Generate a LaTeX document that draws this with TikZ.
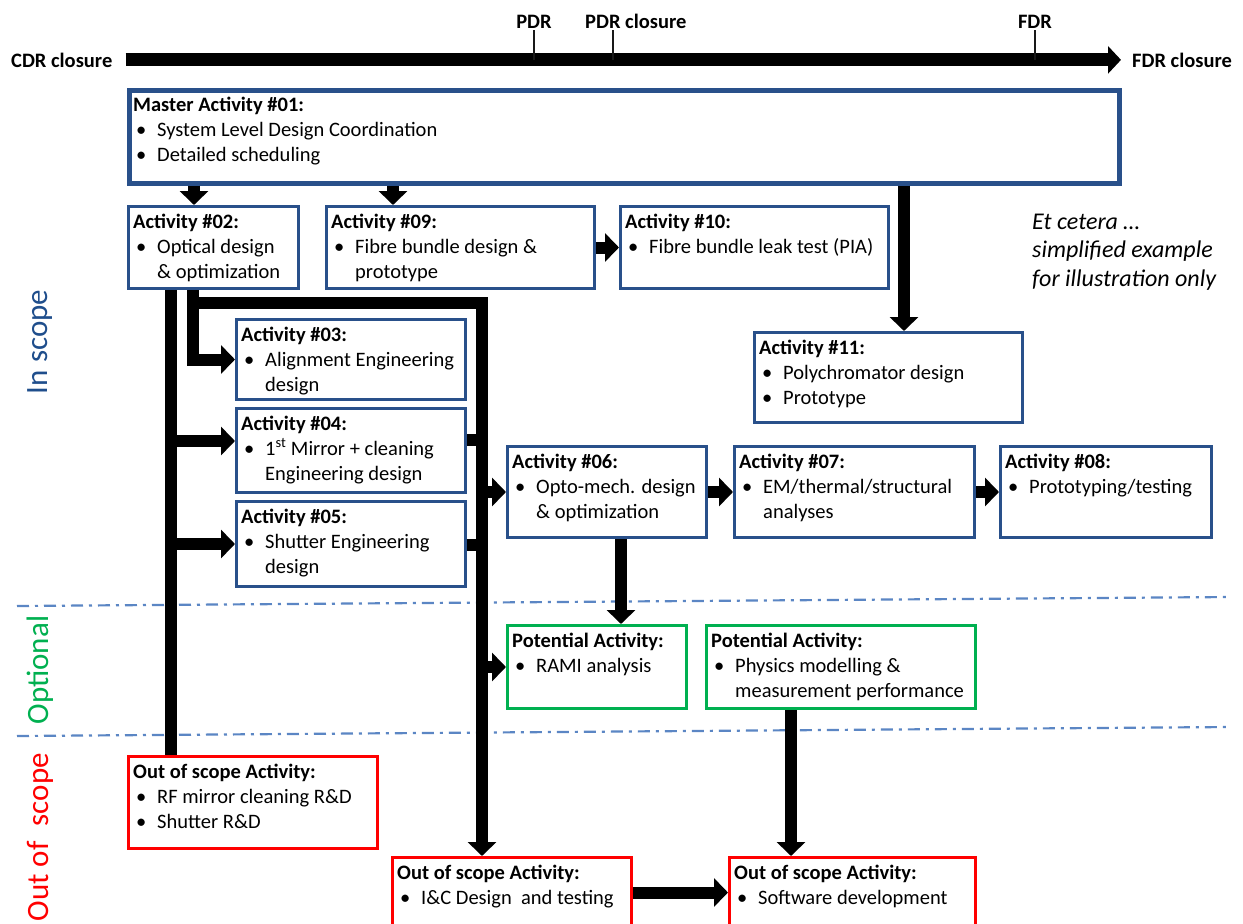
\documentclass[tikz,border=0pt]{standalone}
\usepackage{fontspec}
\setmainfont{Carlito}
\usetikzlibrary{arrows.meta}
\definecolor{bxblue}{RGB}{41,80,138}
\definecolor{bxgreen}{RGB}{0,176,80}
\definecolor{bxred}{RGB}{255,0,0}
\definecolor{dashblue}{RGB}{91,134,196}
\definecolor{lblblue}{RGB}{31,78,140}
\newcommand\bul[1]{\makebox[24pt][l]{\hspace{3pt}\textbullet}#1}
\newcommand\cnt[1]{\hspace*{24pt}#1}
\newcommand\fl{\rule{0pt}{17pt}}
\begin{document}
\begin{tikzpicture}[x=1pt,y=-1pt,
  bx/.style={draw=bxblue, line width=3pt, rectangle, anchor=north west, inner sep=0pt, fill=white},
  mbx/.style={bx, line width=4.5pt},
  gbx/.style={bx, draw=bxgreen},
  rbx/.style={bx, draw=bxred},
  txt/.style={anchor=north west, inner sep=0pt, align=left, font=\fontsize{20.5}{25}\selectfont},
  conn/.style={line width=12pt, draw=black},
  arr/.style={conn, -{Triangle[length=14pt,width=28pt]}},
  tline/.style={line width=13pt, draw=black, -{Triangle[length=13pt,width=27pt]}},
  tick/.style={line width=1.2pt, draw=black!90},
  lbl/.style={font=\fontsize{20.5}{25}\selectfont\bfseries, inner sep=0pt},
  side/.style={font=\fontsize{31}{36}\selectfont, inner sep=0pt, rotate=90},
  dd/.style={draw=dashblue, line width=2.2pt, dash pattern=on 12pt off 6pt on 3pt off 6pt},
  note/.style={anchor=north west, inner sep=0pt, align=left, font=\fontsize{24}{28.5}\selectfont\itshape}
]
\useasboundingbox (0,0) rectangle (1243,924);
\fill[white] (0,0) rectangle (1243,924);

% separators
\draw[dd] (17,606) -- (1230,597);
\draw[dd] (17,736) -- (1230,727);

% side labels
\node[side, text=lblblue] (insc) at (40,342) {In scope};
\node[side, text=bxgreen] (opt) at (40,670) {Optional};
\node[side, text=bxred, anchor=east] (oos) at (40,753) {Out of\hspace{15pt}scope};

% timeline
\node[lbl, anchor=base west] (cdr) at (11,67) {CDR closure};
\node[lbl, anchor=base west] (fdr) at (1132,67) {FDR closure};
\node[lbl, anchor=base, inner ysep=2pt] (pdr) at (534,28) {PDR};
\node[lbl, anchor=base west, inner ysep=2pt] (pdrc) at (585,28) {PDR closure};
\node[lbl, anchor=base, inner ysep=2pt] (fdrt) at (1035,28) {FDR};
\coordinate (tl0) at ([xshift=13pt]cdr.east);
\coordinate (tl1) at ([xshift=-11pt]fdr.west);
\coordinate (pc) at ([xshift=28pt]pdrc.south west);
\draw[tline] (tl0) -- (tl1);
\draw[tick] (pdr.south) -- (pdr.south |- tl0);
\draw[tick] (pc) -- (pc |- tl0);
\draw[tick] (fdrt.south) -- (fdrt.south |- tl0);

% boxes
\node[mbx, minimum width=990pt, minimum height=93pt] (mast) at (127,88) {};
\node[txt] (mastt) at ([shift={(6,6)}]mast.north west) {\fl\textbf{Master Activity \#01:}\\ \bul{System Level Design Coordination}\\ \bul{Detailed scheduling}};

\node[bx, minimum width=170pt, minimum height=82pt] (a02) at (127,205) {};
\node[txt] (a02t) at ([shift={(6,6)}]a02.north west) {\fl\textbf{Activity \#02:}\\ \bul{Optical design}\\ \cnt{\& optimization}};

\node[bx, minimum width=268pt, minimum height=82pt] (a09) at (325,205) {};
\node[txt] (a09t) at ([shift={(6,6)}]a09.north west) {\fl\textbf{Activity \#09:}\\ \bul{Fibre bundle design \&}\\ \cnt{prototype}};

\node[bx, minimum width=268pt, minimum height=82pt] (a10) at (619,205) {};
\node[txt] (a10t) at ([shift={(6,6)}]a10.north west) {\fl\textbf{Activity \#10:}\\ \bul{Fibre bundle leak test (PIA)}};

\node[bx, minimum width=268pt, minimum height=90pt] (a11) at (753,331) {};
\node[txt] (a11t) at ([shift={(6,6)}]a11.north west) {\fl\textbf{Activity \#11:}\\ \bul{Polychromator design}\\ \bul{Prototype}};

\node[bx, minimum width=229pt, minimum height=80pt] (a03) at (235,318) {};
\node[txt] (a03t) at ([shift={(6,6)}]a03.north west) {\fl\textbf{Activity \#03:}\\ \bul{Alignment Engineering}\\ \cnt{design}};

\node[bx, minimum width=229pt, minimum height=84pt] (a04) at (235,407) {};
\node[txt] (a04t) at ([shift={(6,6)}]a04.north west) {\fl\textbf{Activity \#04:}\\ \bul{1\textsuperscript{st} Mirror + cleaning}\\ \cnt{Engineering design}};

\node[bx, minimum width=229pt, minimum height=85pt] (a05) at (235,500) {};
\node[txt] (a05t) at ([shift={(6,6)}]a05.north west) {\fl\textbf{Activity \#05:}\\ \bul{Shutter Engineering}\\ \cnt{design}};

\node[bx, minimum width=199pt, minimum height=91pt] (a06) at (506,445) {};
\node[txt] (a06t) at ([shift={(6,6)}]a06.north west) {\fl\textbf{Activity \#06:}\\ \bul{Opto-mech. design}\\ \cnt{\& optimization}};

\node[bx, minimum width=240pt, minimum height=91pt] (a07) at (733,445) {};
\node[txt] (a07t) at ([shift={(6,6)}]a07.north west) {\fl\textbf{Activity \#07:}\\ \bul{EM/thermal/structural}\\ \cnt{analyses}};

\node[bx, minimum width=211pt, minimum height=91pt] (a08) at (999,445) {};
\node[txt] (a08t) at ([shift={(6,6)}]a08.north west) {\fl\textbf{Activity \#08:}\\ \bul{Prototyping/testing}};

\node[gbx, minimum width=179pt, minimum height=83pt] (rami) at (506,624) {};
\node[txt] (ramit) at ([shift={(6,6)}]rami.north west) {\fl\textbf{Potential Activity:}\\ \bul{RAMI analysis}};

\node[gbx, minimum width=269pt, minimum height=83pt] (phys) at (705,624) {};
\node[txt] (physt) at ([shift={(6,6)}]phys.north west) {\fl\textbf{Potential Activity:}\\ \bul{Physics modelling \&}\\ \cnt{measurement performance}};

\node[rbx, minimum width=249pt, minimum height=92pt] (oos1) at (127,755) {};
\node[txt] (oos1t) at ([shift={(6,6)}]oos1.north west) {\fl\textbf{Out of scope Activity:}\\ \bul{RF mirror cleaning R\&D}\\ \bul{Shutter R\&D}};

\node[rbx, minimum width=239pt, minimum height=70pt] (ic) at (391,856) {};
\node[txt] (ict) at ([shift={(6,6)}]ic.north west) {\fl\textbf{Out of scope Activity:}\\ \bul{I\&C Design\ \ and testing}};

\node[rbx, minimum width=246pt, minimum height=70pt] (sw) at (728,856) {};
\node[txt] (swt) at ([shift={(6,6)}]sw.north west) {\fl\textbf{Out of scope Activity:}\\ \bul{Software development}};

\node[note] (etc) at (1032,209) {\rule{0pt}{20pt}Et cetera …\\ simplified example\\ for illustration only};

% connector guide coordinates
\coordinate (xA) at (171,0);
\coordinate (xB) at (193,0);
\coordinate (xC) at (482,0);
\coordinate (yT) at (0,303);
\coordinate (y4) at (0,441);
\coordinate (y4s) at (0,440);
\coordinate (y5s) at (0,545);
\coordinate (m1) at (194,0);
\coordinate (m2) at (393,0);
\coordinate (m3) at (904,0);
\coordinate (x06) at (621,0);
\coordinate (xph) at (791,0);

% connectors
\draw[arr] (mast.south -| m1) -- (a02.north -| m1);
\draw[arr] (mast.south -| m2) -- (a09.north -| m2);
\draw[arr] (mast.south -| m3) -- (a11.north -| m3);
\draw[arr] (a09.east) -- (a10.west);

\draw[conn] (a02.south -| xA) -- (oos1.north -| xA);
\draw[arr] (xA |- y4) -- (a04.west |- y4);
\draw[arr] (xA |- a05.west) -- (a05.west);

\draw[arr] (a02.south -| xB) |- (a03.west);
\draw[arr] (xB |- yT) -| (ic.north -| xC);
\draw[conn] (a04.east |- y4s) -- (xC |- y4s);
\draw[conn] (a05.east |- y5s) -- (xC |- y5s);
\draw[arr] (xC |- a06.west) -- (a06.west);
\draw[arr] (xC |- rami.west) -- (rami.west);

\draw[arr] (a06.east) -- (a07.west);
\draw[arr] (a07.east) -- (a08.west);
\draw[arr] (a06.south -| x06) -- (rami.north -| x06);
\draw[arr] (phys.south -| xph) -- (sw.north -| xph);
\draw[arr] (ic.east) -- (sw.west);
\end{tikzpicture}
\end{document}
